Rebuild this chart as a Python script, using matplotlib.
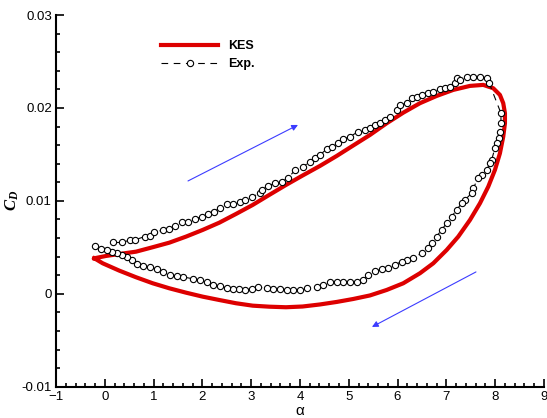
import matplotlib
matplotlib.use("Agg")
import matplotlib.pyplot as plt
from matplotlib.ticker import MultipleLocator

plt.rcParams['font.family'] = ['Liberation Sans', 'DejaVu Sans']
plt.rcParams['mathtext.fontset'] = 'custom'
plt.rcParams['mathtext.it'] = 'Liberation Serif:italic:bold'
plt.rcParams['mathtext.rm'] = 'Liberation Serif:bold'

# KES computed loop (alpha, Cd)
kes_alpha = [-0.215, 0.025, 0.297, 0.639, 0.982, 1.322, 1.664, 2.006, 2.346, 2.689,
             3.031, 3.371, 3.713, 4.055, 4.410, 4.752, 5.092, 5.434, 5.777, 6.117,
             6.459, 6.801, 7.141, 7.484, 7.756, 7.961, 8.098, 8.166, 8.201, 8.201,
             8.166, 8.098, 7.996, 7.859, 7.689, 7.484, 7.244, 7.006, 6.732, 6.459,
             6.117, 5.777, 5.434, 5.092, 4.752, 4.410, 4.055, 3.713, 3.371, 3.031,
             2.689, 2.346, 2.006, 1.664, 1.322, 0.982, 0.639, 0.297, -0.043, -0.215]
kes_cd = [0.00382, 0.00407, 0.00428, 0.00453, 0.00501, 0.00550, 0.00615, 0.00687, 0.00765, 0.00859,
          0.00956, 0.01064, 0.01171, 0.01273, 0.01376, 0.01483, 0.01596, 0.01709, 0.01835, 0.01949,
          0.02051, 0.02129, 0.02194, 0.02237, 0.02248, 0.02212, 0.02140, 0.02051, 0.01943, 0.01835,
          0.01691, 0.01512, 0.01333, 0.01153, 0.00974, 0.00794, 0.00615, 0.00471, 0.00328, 0.00221,
          0.00113, 0.00041, -0.00018, -0.00056, -0.00088, -0.00115, -0.00137, -0.00145, -0.00139, -0.00128,
          -0.00102, -0.00067, -0.00031, 0.00012, 0.00059, 0.00113, 0.00178, 0.00249, 0.00328, 0.00382]

# experiment (alpha, Cd)
exp_alpha = [0.174, 0.346, 0.516, 0.619, 0.823, 0.926, 1.008, 1.199, 1.321, 1.439,
             1.576, 1.711, 1.849, 1.985, 2.121, 2.237, 2.361, 2.498, 2.621, 2.770,
             2.873, 3.010, 3.180, 3.215, 3.351, 3.487, 3.625, 3.760, 3.898, 4.068,
             4.205, 4.308, 4.410, 4.547, 4.650, 4.785, 4.887, 5.025, 5.194, 5.332,
             5.434, 5.537, 5.639, 5.741, 5.844, 5.982, 6.049, 6.186, 6.289, 6.391,
             6.494, 6.629, 6.731, 6.869, 6.972, 7.074, 7.176, 7.212, 7.279, 7.416,
             7.551, 7.688, 7.826, 7.879,
             8.119, 8.119, 8.098, 8.084, 8.031, 7.996, 7.928, 7.893, 7.826, 7.724,
             7.653, 7.551, 7.519, 7.381, 7.314, 7.212, 7.109, 7.006, 6.903, 6.801,
             6.698, 6.629, 6.494, 6.322, 6.186, 6.084, 5.946, 5.810, 5.674, 5.537,
             5.399, 5.297, 5.162, 5.025, 4.887, 4.753, 4.615, 4.478, 4.342, 4.137,
             4.000, 3.863, 3.727, 3.590, 3.453, 3.318, 3.146, 3.010, 2.873, 2.756,
             2.633, 2.498, 2.361, 2.223, 2.088, 1.951, 1.813, 1.609, 1.473, 1.337,
             1.199, 1.063, 0.926, 0.789, 0.654, 0.551, 0.449, 0.346, 0.244, 0.142,
             0.039, -0.084, -0.201]
exp_cd = [0.00552, 0.00552, 0.00577, 0.00581, 0.00616, 0.00627, 0.00670, 0.00681, 0.00696, 0.00734,
          0.00771, 0.00771, 0.00803, 0.00831, 0.00860, 0.00885, 0.00922, 0.00968, 0.00968, 0.00992,
          0.01011, 0.01040, 0.01083, 0.01118, 0.01161, 0.01190, 0.01208, 0.01244, 0.01333, 0.01369,
          0.01423, 0.01459, 0.01495, 0.01556, 0.01577, 0.01620, 0.01663, 0.01691, 0.01745, 0.01763,
          0.01782, 0.01817, 0.01835, 0.01871, 0.01906, 0.01978, 0.02032, 0.02051, 0.02104, 0.02115,
          0.02140, 0.02158, 0.02175, 0.02201, 0.02212, 0.02229, 0.02272, 0.02319, 0.02301, 0.02330,
          0.02330, 0.02330, 0.02319, 0.02266,
          0.01943, 0.01835, 0.01745, 0.01674, 0.01620, 0.01567, 0.01441, 0.01405, 0.01333, 0.01280,
          0.01244, 0.01137, 0.01083, 0.01011, 0.00975, 0.00903, 0.00831, 0.00760, 0.00688, 0.00616,
          0.00545, 0.00491, 0.00438, 0.00384, 0.00366, 0.00347, 0.00312, 0.00276, 0.00266, 0.00240,
          0.00204, 0.00151, 0.00122, 0.00122, 0.00122, 0.00132, 0.00122, 0.00097, 0.00078, 0.00061,
          0.00043, 0.00043, 0.00043, 0.00051, 0.00051, 0.00061, 0.00068, 0.00051, 0.00043, 0.00051,
          0.00051, 0.00061, 0.00086, 0.00097, 0.00122, 0.00143, 0.00161, 0.00180, 0.00186, 0.00204,
          0.00233, 0.00266, 0.00287, 0.00301, 0.00323, 0.00366, 0.00401, 0.00419, 0.00438, 0.00448,
          0.00466, 0.00481, 0.00509]

# direction arrows: (start, end)
arrow_up = [(1.705, 0.01214), (3.959, 0.01817)]
arrow_down = [(7.607, 0.00235), (5.475, -0.00357)]

fig = plt.figure(figsize=(5.47, 4.18), dpi=100)
ax = fig.add_axes([0.1024, 0.0749, 0.892, 0.8892])

ax.plot(kes_alpha, kes_cd, color='#dd0000', lw=3, label='KES', zorder=3,
        solid_joinstyle='round')
ax.plot(exp_alpha, exp_cd, color='black', lw=0.8, ls=(0, (6, 5)), marker='o',
        ms=4.5, mfc='white', mec='black', mew=0.8, label='Exp.', zorder=4)

for a in [arrow_up, arrow_down]:
    ax.annotate('', xy=a[1], xytext=a[0],
                arrowprops=dict(arrowstyle='-|>', color='#3c3cff', lw=0.8,
                                mutation_scale=9, shrinkA=0, shrinkB=0))

ax.set_xlim(-1, 9)
ax.set_ylim(-0.01, 0.03)
ax.xaxis.set_major_locator(MultipleLocator(1))
ax.xaxis.set_minor_locator(MultipleLocator(0.2))
ax.set_yticks([-0.01, 0, 0.01, 0.02, 0.03])
ax.set_yticklabels(['-0.01', '0', '0.01', '0.02', '0.03'])
ax.yaxis.set_minor_locator(MultipleLocator(0.002))

ax.tick_params(which='both', direction='in', labelsize=9.5, width=1.2)
ax.tick_params(which='major', length=6, pad=3)
ax.tick_params(which='minor', length=3)
ax.spines['top'].set_visible(False)
ax.spines['right'].set_visible(False)
ax.spines['left'].set_linewidth(1.5)
ax.spines['bottom'].set_linewidth(1.5)

ax.set_xlabel('α', fontsize=11, labelpad=1)
ax.set_ylabel('$C_D$', fontsize=12, labelpad=0)

ax.legend(loc='upper left', bbox_to_anchor=(0.192, 0.962), frameon=False,
          prop={'weight': 'bold', 'size': 9}, handlelength=4.6, labelspacing=0.45,
          handletextpad=0.8)

fig.savefig('out.png', dpi=100)
